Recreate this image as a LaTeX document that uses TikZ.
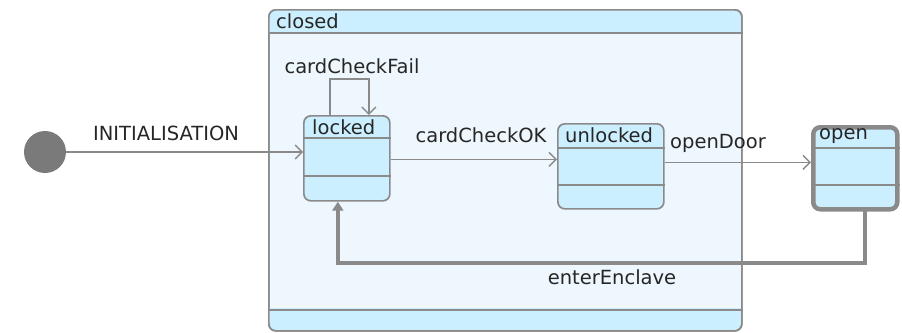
\documentclass[tikz,border=0pt]{standalone}
\usepackage{fontspec}
\setmainfont{DejaVu Sans}
\usetikzlibrary{arrows.meta,calc}
\definecolor{bordergray}{HTML}{8A8A8A}
\definecolor{hdrblue}{HTML}{CCEFFF}
\definecolor{bodyblue}{HTML}{EDF7FD}
\definecolor{txtgray}{HTML}{262626}
\definecolor{initgray}{HTML}{7A7A7A}
\tikzset{
  stbox/.style={draw=bordergray, line width=1.7pt, rounded corners=7pt, fill=hdrblue, anchor=north west, inner sep=0pt},
  sttitle/.style={anchor=west, inner sep=0pt, text=txtgray, font=\fontsize{19.5}{21}\selectfont},
  trlabel/.style={inner sep=0pt, text=txtgray, font=\fontsize{19.5}{21}\selectfont},
  sep/.style={draw=bordergray, line width=1.6pt},
  trans/.style={draw=bordergray, line width=1.4pt, -{Straight Barb[length=7pt,width=14pt,line width=1.4pt]}},
  thicktrans/.style={draw=bordergray, line width=4pt, -{Triangle[length=9pt,width=11pt]}},
}
\begin{document}
\begin{tikzpicture}[x=1pt,y=-1pt]
\useasboundingbox (0,0) rectangle (902,332);
% composite state closed
\node[stbox, fill=bodyblue, minimum width=473pt, minimum height=321pt] (closed) at (268,9) {};
\begin{scope}
\clip[rounded corners=7pt] (268,9) rectangle (741,330);
\fill[hdrblue] (268,9) rectangle (741,33);
\fill[hdrblue] (268,308) rectangle (741,330);
\end{scope}
\node[stbox, fill=none, minimum width=473pt, minimum height=321pt] at (268,9) {};
\draw[sep] ([yshift=-24pt]closed.north west) -- ([yshift=-24pt]closed.north east);
\draw[sep] ([yshift=22pt]closed.south west) -- ([yshift=22pt]closed.south east);
\node[sttitle] (closedT) at (276,21) {closed};
% states
\node[stbox, minimum width=86pt, minimum height=85pt] (locked) at (303,115) {};
\draw[sep] ([yshift=-23pt]locked.north west) -- ([yshift=-23pt]locked.north east);
\draw[sep] ([yshift=-61pt]locked.north west) -- ([yshift=-61pt]locked.north east);
\node[sttitle] (lockedT) at (312,127) {locked};
\node[stbox, minimum width=106pt, minimum height=85pt] (unlocked) at (557,123) {};
\draw[sep] ([yshift=-25pt]unlocked.north west) -- ([yshift=-25pt]unlocked.north east);
\draw[sep] ([yshift=-62pt]unlocked.north west) -- ([yshift=-62pt]unlocked.north east);
\node[sttitle] (unlockedT) at (565,135) {unlocked};
\node[stbox, line width=4.5pt, minimum width=84pt, minimum height=82pt] (open) at (811,125) {};
\draw[sep] ([yshift=-23pt]open.north west) -- ([yshift=-23pt]open.north east);
\draw[sep] ([yshift=-60pt]open.north west) -- ([yshift=-60pt]open.north east);
\node[sttitle] (openT) at (819,136) {open};
% initial
\node[circle, fill=initgray, minimum size=42pt, inner sep=0pt] (init) at (45,152) {};
% transitions
\draw[trans] (init.east) -- (init.east -| locked.west);
\node[trlabel] (initL) at (166,133) {INITIALISATION};
\draw[trans] ([yshift=-1pt]locked.east) -- ([yshift=-1pt]locked.east -| unlocked.west);
\node[trlabel] (okL) at (481,135) {cardCheckOK};
\draw[trans] ([yshift=4pt]unlocked.east) -- ([yshift=4pt]unlocked.east -| open.west);
\node[trlabel] (doorL) at (718,143) {openDoor};
\draw[trans] ([xshift=-17pt]locked.north) -- ++(0pt,36pt) -| ([xshift=22pt]locked.north);
\node[trlabel] (failL) at (352,66) {cardCheckFail};
\draw[thicktrans] ([xshift=10pt,yshift=2pt]open.south) -- ++(0pt,-53pt) -| ([xshift=-9pt]locked.south);
\node[trlabel] (encL) at (612,277) {enterEnclave};
\end{tikzpicture}
\end{document}
